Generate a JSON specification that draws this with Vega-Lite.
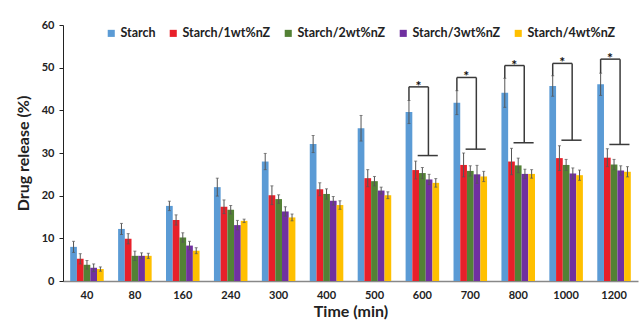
{
  "$schema": "https://vega.github.io/schema/vega-lite/v6.json",
  "width": 575,
  "height": 256,
  "autosize": {"type": "none"},
  "padding": {"left": 63, "top": 25, "right": 6, "bottom": 44},
  "background": "white",
  "config": {
    "font": "Lato",
    "view": {"stroke": null},
    "axis": {"grid": false, "labelFont": "Lato", "titleFont": "Lato", "labelFontWeight": "bold", "titleFontWeight": "bold", "labelColor": "#222", "titleColor": "#222"}
  },
  "datasets": {
    "bars": [
      {"time": "40", "series": "Starch", "value": 8.0, "lo": 6.7, "hi": 9.3},
      {"time": "40", "series": "Starch/1wt%nZ", "value": 5.2, "lo": 4.0, "hi": 6.4},
      {"time": "40", "series": "Starch/2wt%nZ", "value": 3.8, "lo": 2.8, "hi": 4.8},
      {"time": "40", "series": "Starch/3wt%nZ", "value": 3.1, "lo": 2.2, "hi": 4.0},
      {"time": "40", "series": "Starch/4wt%nZ", "value": 2.8, "lo": 2.3, "hi": 3.3},
      {"time": "80", "series": "Starch", "value": 12.2, "lo": 10.9, "hi": 13.5},
      {"time": "80", "series": "Starch/1wt%nZ", "value": 9.9, "lo": 8.7, "hi": 11.1},
      {"time": "80", "series": "Starch/2wt%nZ", "value": 5.9, "lo": 4.8, "hi": 7.0},
      {"time": "80", "series": "Starch/3wt%nZ", "value": 5.9, "lo": 5.2, "hi": 6.6},
      {"time": "80", "series": "Starch/4wt%nZ", "value": 5.9, "lo": 5.3, "hi": 6.5},
      {"time": "160", "series": "Starch", "value": 17.6, "lo": 16.5, "hi": 18.7},
      {"time": "160", "series": "Starch/1wt%nZ", "value": 14.3, "lo": 13.1, "hi": 15.5},
      {"time": "160", "series": "Starch/2wt%nZ", "value": 10.2, "lo": 9.1, "hi": 11.3},
      {"time": "160", "series": "Starch/3wt%nZ", "value": 8.3, "lo": 7.3, "hi": 9.3},
      {"time": "160", "series": "Starch/4wt%nZ", "value": 7.1, "lo": 6.4, "hi": 7.8},
      {"time": "240", "series": "Starch", "value": 22.0, "lo": 19.9, "hi": 24.1},
      {"time": "240", "series": "Starch/1wt%nZ", "value": 17.4, "lo": 15.8, "hi": 19.0},
      {"time": "240", "series": "Starch/2wt%nZ", "value": 16.7, "lo": 15.7, "hi": 17.7},
      {"time": "240", "series": "Starch/3wt%nZ", "value": 13.1, "lo": 12.0, "hi": 14.2},
      {"time": "240", "series": "Starch/4wt%nZ", "value": 14.1, "lo": 13.7, "hi": 14.5},
      {"time": "300", "series": "Starch", "value": 28.0, "lo": 26.1, "hi": 29.9},
      {"time": "300", "series": "Starch/1wt%nZ", "value": 20.1, "lo": 17.9, "hi": 22.3},
      {"time": "300", "series": "Starch/2wt%nZ", "value": 19.2, "lo": 18.2, "hi": 20.2},
      {"time": "300", "series": "Starch/3wt%nZ", "value": 16.3, "lo": 15.2, "hi": 17.4},
      {"time": "300", "series": "Starch/4wt%nZ", "value": 14.9, "lo": 14.1, "hi": 15.7},
      {"time": "400", "series": "Starch", "value": 32.1, "lo": 30.1, "hi": 34.1},
      {"time": "400", "series": "Starch/1wt%nZ", "value": 21.5, "lo": 20.0, "hi": 23.0},
      {"time": "400", "series": "Starch/2wt%nZ", "value": 20.4, "lo": 19.2, "hi": 21.6},
      {"time": "400", "series": "Starch/3wt%nZ", "value": 18.8, "lo": 17.8, "hi": 19.8},
      {"time": "400", "series": "Starch/4wt%nZ", "value": 17.8, "lo": 16.8, "hi": 18.8},
      {"time": "500", "series": "Starch", "value": 35.8, "lo": 32.8, "hi": 38.8},
      {"time": "500", "series": "Starch/1wt%nZ", "value": 24.1, "lo": 22.1, "hi": 26.1},
      {"time": "500", "series": "Starch/2wt%nZ", "value": 23.4, "lo": 22.3, "hi": 24.5},
      {"time": "500", "series": "Starch/3wt%nZ", "value": 21.2, "lo": 20.4, "hi": 22.0},
      {"time": "500", "series": "Starch/4wt%nZ", "value": 20.1, "lo": 19.3, "hi": 20.9},
      {"time": "600", "series": "Starch", "value": 39.6, "lo": 36.9, "hi": 42.3},
      {"time": "600", "series": "Starch/1wt%nZ", "value": 26.0, "lo": 23.9, "hi": 28.1},
      {"time": "600", "series": "Starch/2wt%nZ", "value": 25.3, "lo": 24.0, "hi": 26.6},
      {"time": "600", "series": "Starch/3wt%nZ", "value": 23.8, "lo": 22.6, "hi": 25.0},
      {"time": "600", "series": "Starch/4wt%nZ", "value": 23.0, "lo": 22.0, "hi": 24.0},
      {"time": "700", "series": "Starch", "value": 41.8, "lo": 39.0, "hi": 44.6},
      {"time": "700", "series": "Starch/1wt%nZ", "value": 27.2, "lo": 24.4, "hi": 30.0},
      {"time": "700", "series": "Starch/2wt%nZ", "value": 25.8, "lo": 24.6, "hi": 27.0},
      {"time": "700", "series": "Starch/3wt%nZ", "value": 25.0, "lo": 22.9, "hi": 27.1},
      {"time": "700", "series": "Starch/4wt%nZ", "value": 24.5, "lo": 23.3, "hi": 25.7},
      {"time": "800", "series": "Starch", "value": 44.1, "lo": 40.7, "hi": 47.5},
      {"time": "800", "series": "Starch/1wt%nZ", "value": 28.0, "lo": 24.9, "hi": 31.1},
      {"time": "800", "series": "Starch/2wt%nZ", "value": 27.1, "lo": 25.4, "hi": 28.8},
      {"time": "800", "series": "Starch/3wt%nZ", "value": 25.1, "lo": 24.0, "hi": 26.2},
      {"time": "800", "series": "Starch/4wt%nZ", "value": 25.1, "lo": 24.1, "hi": 26.1},
      {"time": "1000", "series": "Starch", "value": 45.7, "lo": 43.3, "hi": 48.1},
      {"time": "1000", "series": "Starch/1wt%nZ", "value": 28.8, "lo": 25.9, "hi": 31.7},
      {"time": "1000", "series": "Starch/2wt%nZ", "value": 27.2, "lo": 25.9, "hi": 28.5},
      {"time": "1000", "series": "Starch/3wt%nZ", "value": 25.2, "lo": 23.9, "hi": 26.5},
      {"time": "1000", "series": "Starch/4wt%nZ", "value": 24.8, "lo": 23.6, "hi": 26.0},
      {"time": "1200", "series": "Starch", "value": 46.1, "lo": 43.5, "hi": 48.7},
      {"time": "1200", "series": "Starch/1wt%nZ", "value": 28.9, "lo": 26.8, "hi": 31.0},
      {"time": "1200", "series": "Starch/2wt%nZ", "value": 27.3, "lo": 26.1, "hi": 28.5},
      {"time": "1200", "series": "Starch/3wt%nZ", "value": 25.9, "lo": 24.8, "hi": 27.0},
      {"time": "1200", "series": "Starch/4wt%nZ", "value": 25.6, "lo": 24.4, "hi": 26.8}
    ],
    "brackets": [
      {"time": "600", "low": 42.3, "top": 45.5, "bottom": 29.4, "label": "*"},
      {"time": "700", "low": 44.6, "top": 47.7, "bottom": 30.9, "label": "*"},
      {"time": "800", "low": 47.5, "top": 50.5, "bottom": 32.4, "label": "*"},
      {"time": "1000", "low": 48.1, "top": 51.0, "bottom": 33.0, "label": "*"},
      {"time": "1200", "low": 48.7, "top": 52.0, "bottom": 32.0, "label": "*"}
    ]
  },
  "encoding": {
    "x": {
      "field": "time", "type": "nominal",
      "sort": ["40", "80", "160", "240", "300", "400", "500", "600", "700", "800", "1000", "1200"],
      "scale": {"paddingInner": 0.3, "paddingOuter": 0.15},
      "axis": {"title": "Time (min)", "labelAngle": 0, "ticks": false, "labelPadding": 8, "labelFontSize": 11, "titleFontSize": 16, "titlePadding": 3, "domainColor": "#888", "domainWidth": 1.5}
    }
  },
  "layer": [
    {
      "data": {"name": "bars"},
      "mark": {"type": "bar"},
      "encoding": {
        "xOffset": {"field": "series", "type": "nominal"},
        "y": {
          "field": "value", "type": "quantitative",
          "scale": {"domain": [0, 60], "nice": false},
          "axis": {"title": "Drug release (%)", "values": [0, 10, 20, 30, 40, 50, 60], "labelFontSize": 11, "titleFontSize": 16, "tickSize": 4, "labelPadding": 5, "titlePadding": 10, "domainColor": "#222", "tickColor": "#222"}
        },
        "color": {
          "field": "series", "type": "nominal",
          "scale": {"range": ["#5B9BD5", "#E8202A", "#538135", "#7030A0", "#FFC000"]},
          "legend": {"title": null, "orient": "none", "direction": "horizontal", "legendX": 42, "legendY": 2, "symbolType": "square", "symbolSize": 50, "labelFontSize": 12.5, "labelFontWeight": "bold", "labelColor": "#222", "columnPadding": 11, "labelOffset": 3, "symbolStrokeWidth": 0}
        }
      }
    },
    {
      "data": {"name": "bars"},
      "mark": {"type": "rule", "color": "#555", "strokeWidth": 1},
      "encoding": {
        "xOffset": {"field": "series", "type": "nominal"},
        "y": {"field": "lo", "type": "quantitative"},
        "y2": {"field": "hi"}
      }
    },
    {
      "data": {"name": "bars"},
      "mark": {"type": "tick", "color": "#555", "orient": "horizontal", "size": 3, "thickness": 1},
      "encoding": {
        "xOffset": {"field": "series", "type": "nominal"},
        "y": {"field": "hi", "type": "quantitative"}
      }
    },
    {
      "data": {"name": "bars"},
      "mark": {"type": "tick", "color": "#555", "orient": "horizontal", "size": 3, "thickness": 1},
      "encoding": {
        "xOffset": {"field": "series", "type": "nominal"},
        "y": {"field": "lo", "type": "quantitative"}
      }
    },
    {
      "data": {"name": "brackets"},
      "mark": {"type": "rule", "stroke": "#3a3a3a", "strokeWidth": 1.5},
      "encoding": {
        "x": {"field": "time", "type": "nominal", "bandPosition": 0.1},
        "y": {"field": "low", "type": "quantitative"},
        "y2": {"field": "top"}
      }
    },
    {
      "data": {"name": "brackets"},
      "mark": {"type": "rule", "stroke": "#3a3a3a", "strokeWidth": 1.5},
      "encoding": {
        "x": {"field": "time", "type": "nominal", "bandPosition": 0.1},
        "x2": {"field": "time", "bandPosition": 0.68},
        "y": {"field": "top", "type": "quantitative"}
      }
    },
    {
      "data": {"name": "brackets"},
      "mark": {"type": "rule", "stroke": "#3a3a3a", "strokeWidth": 1.5},
      "encoding": {
        "x": {"field": "time", "type": "nominal", "bandPosition": 0.68},
        "y": {"field": "top", "type": "quantitative"},
        "y2": {"field": "bottom"}
      }
    },
    {
      "data": {"name": "brackets"},
      "mark": {"type": "rule", "stroke": "#3a3a3a", "strokeWidth": 1.5},
      "encoding": {
        "x": {"field": "time", "type": "nominal", "bandPosition": 0.36},
        "x2": {"field": "time", "bandPosition": 0.96},
        "y": {"field": "bottom", "type": "quantitative"}
      }
    },
    {
      "data": {"name": "brackets"},
      "mark": {"type": "text", "fontSize": 14, "fontWeight": "bold", "fill": "#111", "baseline": "alphabetic", "dy": 4},
      "encoding": {
        "x": {"field": "time", "type": "nominal", "bandPosition": 0.38},
        "y": {"field": "top", "type": "quantitative"},
        "text": {"field": "label"}
      }
    }
  ]
}
